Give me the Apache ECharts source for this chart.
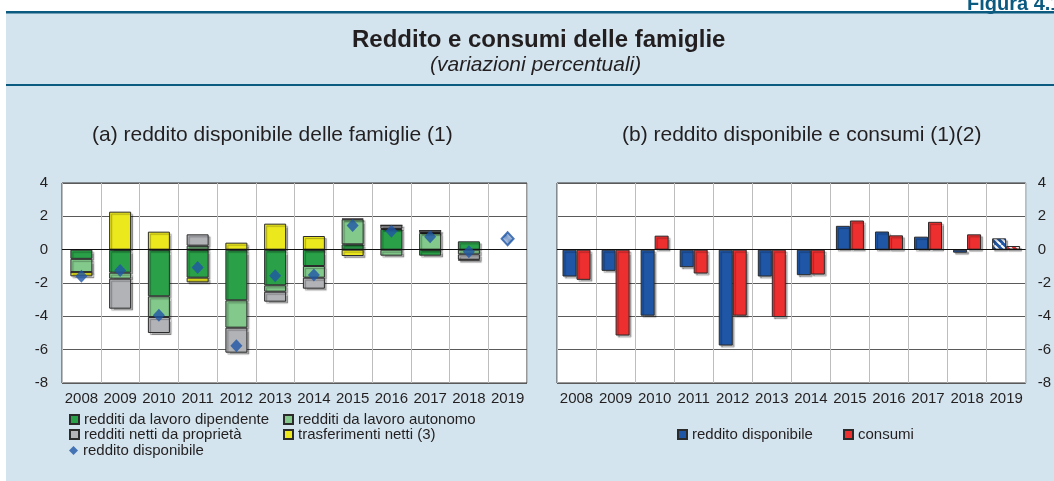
<!DOCTYPE html>
<html>
<head>
<meta charset="utf-8">
<title>Reddito e consumi delle famiglie</title>
<script src="https://cdn.jsdelivr.net/npm/echarts@6/dist/echarts.min.js"></script>
<style>
  html, body { margin: 0; padding: 0; background: #fff; }
  #main { width: 1054px; height: 481px; }
</style>
</head>
<body>
<div id="main"></div>
<script>
// anni (asse x di entrambi i pannelli)
var anni = ['2008', '2009', '2010', '2011', '2012', '2013', '2014', '2015', '2016', '2017', '2018', '2019'];
var yTicks = [-8, -6, -4, -2, 0, 2, 4];

// (a) contributi alla variazione del reddito disponibile
var lavoroDipendente = [-0.55, -1.38, -2.8, -1.68, -3.04, -2.14, -0.98, 0.32, 1.24, -0.36, 0.5, null];
var lavoroAutonomo = [-0.8, -0.36, -1.24, 0.24, -1.64, -0.38, -0.7, 1.5, -0.36, 1.0, -0.28, null];
var proprieta = [0, -1.8, -0.96, 0.68, -1.5, -0.6, -0.66, 0.04, 0.22, 0.14, -0.32, null];
var trasferimenti = [-0.25, 2.28, 1.08, -0.28, 0.42, 1.56, 0.82, -0.38, 0, 0, -0.04, null];
var redditoDispA = [-1.6, -1.25, -3.93, -1.07, -5.77, -1.56, -1.52, 1.45, 1.1, 0.78, -0.12, 0.66];

// (b) reddito disponibile e consumi
var redditoDispB = [-1.61, -1.27, -3.96, -1.05, -5.75, -1.61, -1.53, 1.43, 1.09, 0.78, -0.18, 0.68];
var consumi = [-1.81, -5.15, 0.84, -1.43, -3.96, -4.04, -1.49, 1.75, 0.86, 1.67, 0.92, 0.22];

(function () {
  var FONT = '"Liberation Sans", Arial, sans-serif';
  var TXT = '#231f20';
  var BLU = '#1f56a6';
  var ROSSO = '#ee2f30';

  // tratteggio per le stime 2019
  function tratteggio(fondo, riga, spessore) {
    var c = document.createElement('canvas');
    c.width = 7; c.height = 7;
    var ctx = c.getContext('2d');
    ctx.fillStyle = fondo;
    ctx.fillRect(0, 0, 7, 7);
    ctx.strokeStyle = riga;
    ctx.lineWidth = spessore;
    ctx.beginPath();
    [-7, 0, 7].forEach(function (k) {
      ctx.moveTo(k, 0);
      ctx.lineTo(k + 7, 7);
    });
    ctx.stroke();
    return { image: c, repeat: 'repeat' };
  }

  var ombra = {
    borderColor: '#2b2b2b',
    borderWidth: 1,
    shadowColor: 'rgba(0,0,0,0.3)',
    shadowOffsetX: 2,
    shadowOffsetY: 2,
    shadowBlur: 1
  };

  function stile(colore) {
    return Object.assign({ color: colore }, ombra);
  }

  function asseX(idx) {
    return {
      type: 'category',
      gridIndex: idx,
      data: anni,
      axisLine: { show: false },
      axisTick: { show: false },
      axisLabel: { fontSize: 15, color: TXT, fontFamily: FONT, margin: 8, interval: 0 },
      splitLine: { show: true, interval: 0, lineStyle: { color: '#bdbdbd', width: 1 } }
    };
  }

  function asseY(idx, pos) {
    return {
      type: 'value',
      gridIndex: idx,
      position: pos,
      min: yTicks[0],
      max: yTicks[yTicks.length - 1],
      interval: 2,
      axisLine: { show: false },
      axisTick: { show: false },
      axisLabel: { fontSize: 15, color: TXT, fontFamily: FONT, margin: pos === 'left' ? 14 : 12 },
      splitLine: { show: true, lineStyle: { color: '#5a5a5a', width: 1 } }
    };
  }

  var lineaZero = {
    silent: true,
    symbol: ['none', 'none'],
    label: { show: false },
    lineStyle: { color: '#111', type: 'solid', width: 1.2 },
    data: [{ yAxis: 0 }]
  };

  function pilaA(nome, valori, colore) {
    return {
      name: nome,
      type: 'bar',
      xAxisIndex: 0,
      yAxisIndex: 0,
      stack: 'a',
      barWidth: 22,
      itemStyle: stile(colore),
      data: valori
    };
  }

  var puntiA = redditoDispA.map(function (v, i) {
    if (i === anni.length - 1) {
      return { value: v, itemStyle: { color: tratteggio('#ffffff', BLU, 1.3), borderColor: BLU, borderWidth: 2 } };
    }
    return v;
  });

  function barreB(valori, colore) {
    return valori.map(function (v, i) {
      if (i === anni.length - 1) {
        return { value: v, itemStyle: { color: tratteggio(colore, '#ffffff', 2) } };
      }
      return v;
    });
  }

  var legendaTesto = { fontSize: 15, color: TXT, fontFamily: FONT };
  function legenda(nome, left, top, icona) {
    return {
      data: [nome],
      left: left,
      top: top,
      padding: 0,
      icon: icona || 'rect',
      itemWidth: 9,
      itemHeight: 9,
      textStyle: legendaTesto,
      selectedMode: false
    };
  }

  function titolo(testo, left, top, size, extra) {
    return {
      text: testo,
      left: left,
      top: top,
      padding: 0,
      textStyle: Object.assign({ fontSize: size, fontWeight: 'normal', color: TXT, fontFamily: FONT }, extra || {})
    };
  }

  var myChart = echarts.init(document.getElementById('main'));
  var option = {
    backgroundColor: '#d3e4ee',
    animation: false,
    textStyle: { fontFamily: FONT },
    title: [
      titolo('Reddito e consumi delle famiglie', 352, 28, 24, { fontWeight: 'bold' }),
      titolo('(variazioni percentuali)', 430, 55, 21, { fontStyle: 'italic' }),
      titolo('(a) reddito disponibile delle famiglie (1)', 92, 125, 21),
      titolo('(b) reddito disponibile e consumi (1)(2)', 622, 125, 21),
      titolo('Figura 4.1', 967, -6, 20, { fontWeight: 'bold', color: '#0b5a80' })
    ],
    graphic: [
      { type: 'rect', z: -1, shape: { x: 0, y: 0, width: 1054, height: 12 }, style: { fill: '#ffffff' } },
      { type: 'rect', z: -1, shape: { x: 0, y: 0, width: 6, height: 481 }, style: { fill: '#ffffff' } },
      { type: 'rect', shape: { x: 6, y: 11, width: 1048, height: 2.5 }, style: { fill: '#0b5a80' } },
      { type: 'rect', shape: { x: 6, y: 84, width: 1048, height: 2 }, style: { fill: '#0b5a80' } }
    ],
    legend: [
      legenda('redditi da lavoro dipendente', 69, 412),
      legenda('redditi da lavoro autonomo', 283, 412),
      legenda('redditi netti da proprietà', 69, 427),
      legenda('trasferimenti netti (3)', 283, 427),
      legenda('reddito disponibile', 69, 443, 'diamond'),
      legenda('reddito disponibile ', 677, 427),
      legenda('consumi', 843, 427)
    ],
    grid: [
      { left: 62, top: 183, width: 465, height: 200, show: true, backgroundColor: '#ffffff', borderColor: '#333', borderWidth: 1 },
      { left: 557, top: 183, width: 473, height: 200, show: true, backgroundColor: '#ffffff', borderColor: '#333', borderWidth: 1 }
    ],
    xAxis: [asseX(0), asseX(1)],
    yAxis: [asseY(0, 'left'), asseY(1, 'right')],
    series: [
      Object.assign(pilaA('redditi da lavoro dipendente', lavoroDipendente, '#2aa148'), { markLine: lineaZero }),
      pilaA('redditi da lavoro autonomo', lavoroAutonomo, '#82c98b'),
      pilaA('redditi netti da proprietà', proprieta, '#b2b3b7'),
      pilaA('trasferimenti netti (3)', trasferimenti, '#ece81e'),
      {
        name: 'reddito disponibile',
        type: 'scatter',
        xAxisIndex: 0,
        yAxisIndex: 0,
        symbol: 'diamond',
        symbolSize: [12, 13],
        z: 5,
        itemStyle: { color: BLU },
        data: puntiA
      },
      {
        name: 'reddito disponibile ',
        type: 'bar',
        xAxisIndex: 1,
        yAxisIndex: 1,
        barWidth: 14,
        barGap: '0%',
        itemStyle: stile(BLU),
        markLine: lineaZero,
        data: barreB(redditoDispB, BLU)
      },
      {
        name: 'consumi',
        type: 'bar',
        xAxisIndex: 1,
        yAxisIndex: 1,
        barWidth: 14,
        barGap: '0%',
        itemStyle: stile(ROSSO),
        data: barreB(consumi, ROSSO)
      }
    ]
  };

  myChart.setOption(option);
  window.addEventListener('resize', function () {
    myChart.resize();
  });
})();
</script>
</body>
</html>
